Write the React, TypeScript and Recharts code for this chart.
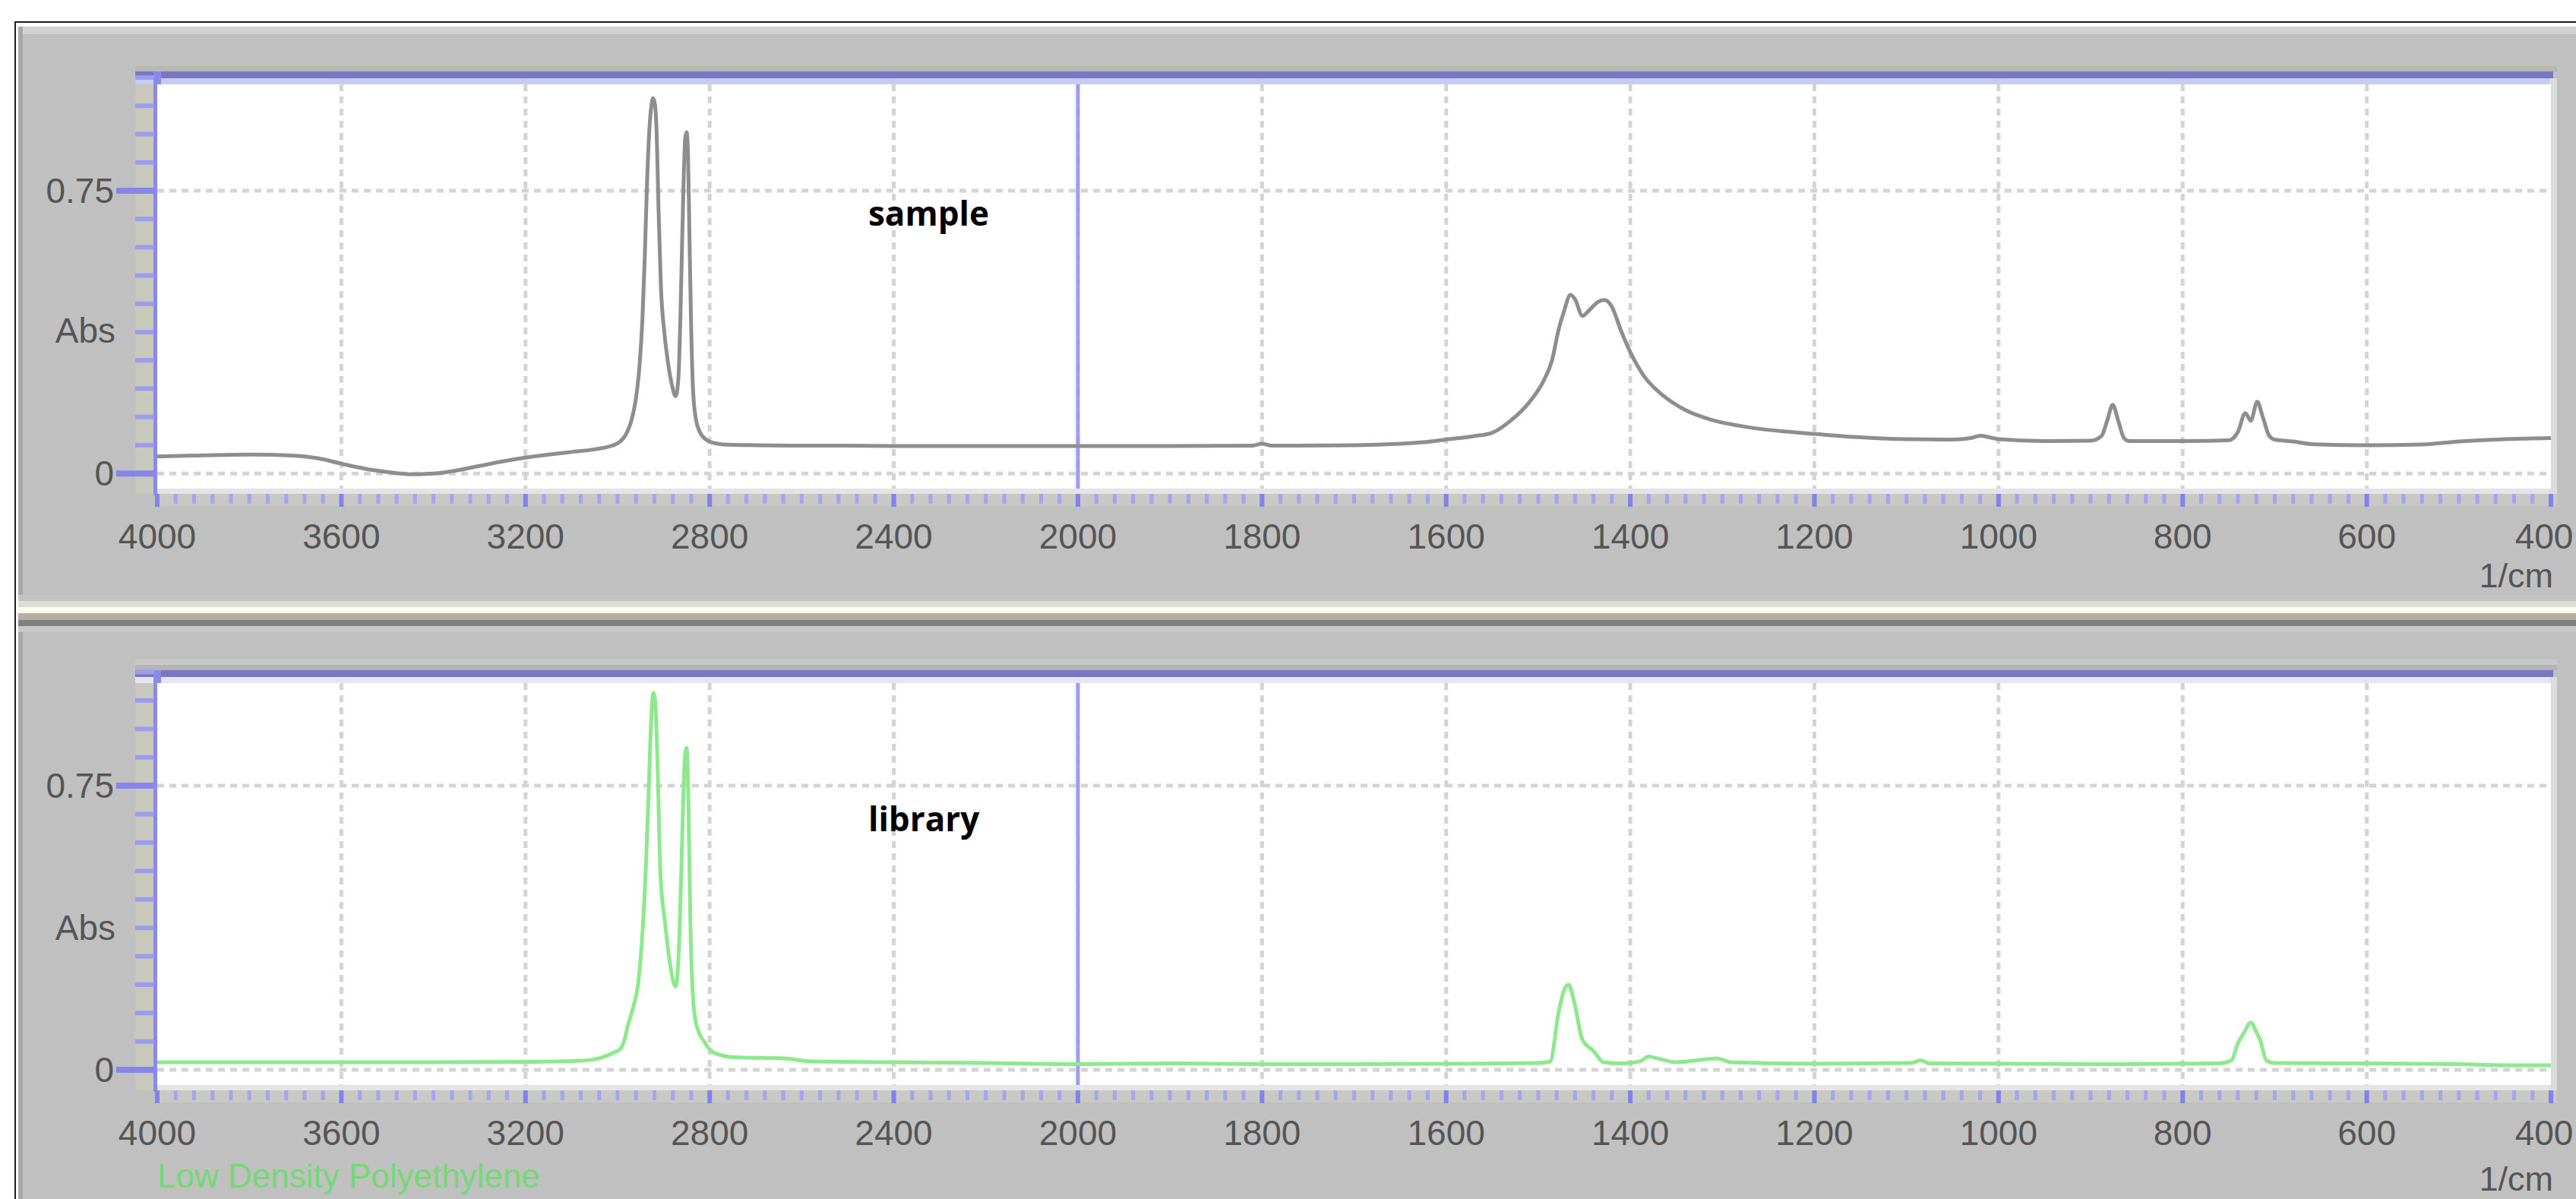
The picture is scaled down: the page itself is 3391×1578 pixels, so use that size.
import { LineChart, Line, XAxis, YAxis, CartesianGrid, ReferenceLine } from 'recharts';

// axis labels of the spectrometer display (4000-2000 at 400 per div, 2000-400 at 200 per div)
const xTickLabels = [4000, 3600, 3200, 2800, 2400, 2000, 1800, 1600, 1400, 1200, 1000, 800, 600, 400];
const yTickLabels = [0, 0.75];

// [wavenumber 1/cm, Abs]
const sampleSpectrum: [number, number][] = [
  [4000, 0.045], [3900, 0.048], [3800, 0.05], [3700, 0.047], [3650, 0.04], [3600, 0.026],
  [3550, 0.013], [3500, 0.004], [3450, -0.002], [3400, 0], [3350, 0.008], [3300, 0.02],
  [3250, 0.032], [3200, 0.042], [3150, 0.05], [3100, 0.057], [3050, 0.064], [3020, 0.071],
  [3000, 0.08], [2990, 0.09], [2980, 0.108], [2970, 0.14], [2960, 0.2], [2952, 0.29],
  [2946, 0.41], [2941, 0.57], [2936, 0.77], [2931, 0.91], [2927, 0.97], [2923, 0.995],
  [2919, 0.98], [2915, 0.9], [2911, 0.7], [2906, 0.5], [2898, 0.37], [2890, 0.29],
  [2882, 0.235], [2874, 0.205], [2868, 0.25], [2864, 0.39], [2860, 0.6], [2856, 0.8],
  [2853, 0.89], [2850, 0.905], [2847, 0.85], [2844, 0.64], [2840, 0.38], [2836, 0.22],
  [2830, 0.145], [2822, 0.112], [2810, 0.092], [2795, 0.082], [2770, 0.077], [2700, 0.075],
  [2600, 0.074], [2500, 0.074], [2400, 0.073], [2300, 0.073], [2200, 0.073], [2100, 0.073],
  [2000, 0.073], [1900, 0.073], [1810, 0.074], [1800, 0.079], [1790, 0.074], [1700, 0.075],
  [1650, 0.079], [1620, 0.084], [1600, 0.09], [1570, 0.099], [1550, 0.108], [1530, 0.14],
  [1510, 0.188], [1495, 0.242], [1485, 0.3], [1478, 0.38], [1472, 0.43], [1465, 0.474],
  [1460, 0.462], [1452, 0.418], [1445, 0.432], [1435, 0.455], [1428, 0.46], [1420, 0.442],
  [1410, 0.378], [1400, 0.322], [1385, 0.258], [1365, 0.208], [1340, 0.168], [1310, 0.141],
  [1270, 0.122], [1230, 0.111], [1200, 0.105], [1150, 0.096], [1100, 0.091], [1050, 0.09],
  [1030, 0.094], [1020, 0.1], [1010, 0.096], [1000, 0.091], [950, 0.086], [900, 0.087],
  [888, 0.1], [882, 0.14], [876, 0.182], [870, 0.14], [864, 0.095], [858, 0.086],
  [800, 0.086], [750, 0.088], [740, 0.11], [732, 0.16], [726, 0.14], [719, 0.19],
  [713, 0.15], [706, 0.1], [700, 0.09], [680, 0.085], [660, 0.078], [600, 0.075],
  [540, 0.077], [500, 0.085], [450, 0.091], [400, 0.094],
];

const librarySpectrum: [number, number][] = [
  [4000, 0.02], [3800, 0.02], [3600, 0.02], [3400, 0.02], [3200, 0.021], [3100, 0.023],
  [3050, 0.028], [3026, 0.036], [3010, 0.045], [2994, 0.055], [2985, 0.08], [2977, 0.12],
  [2965, 0.17], [2955, 0.23], [2946, 0.36], [2938, 0.55], [2932, 0.75], [2927, 0.92],
  [2922, 0.995], [2918, 0.97], [2913, 0.8], [2907, 0.52], [2897, 0.39], [2886, 0.28],
  [2874, 0.22], [2866, 0.34], [2859, 0.64], [2854, 0.82], [2850, 0.85], [2846, 0.7],
  [2842, 0.4], [2837, 0.21], [2829, 0.12], [2812, 0.075], [2790, 0.045], [2745, 0.033],
  [2636, 0.03], [2580, 0.022], [2400, 0.02], [2200, 0.018], [2000, 0.015], [1900, 0.017],
  [1800, 0.015], [1600, 0.016], [1500, 0.018], [1487, 0.022], [1478, 0.15], [1472, 0.21],
  [1467, 0.225], [1461, 0.18], [1452, 0.08], [1440, 0.05], [1429, 0.02], [1410, 0.017],
  [1390, 0.022], [1380, 0.035], [1370, 0.03], [1350, 0.02], [1306, 0.03], [1290, 0.02],
  [1200, 0.016], [1095, 0.018], [1085, 0.025], [1075, 0.017], [900, 0.015], [760, 0.017],
  [747, 0.025], [740, 0.07], [733, 0.1], [726, 0.125], [720, 0.1], [716, 0.08],
  [709, 0.025], [700, 0.018], [600, 0.017], [500, 0.015], [450, 0.012], [400, 0.012],
];

const toAxis = (wn: number) => (wn >= 2000 ? (4000 - wn) / 400 : 5 + (2000 - wn) / 200);

const toRows = (s: [number, number][]) => s.map(([wn, abs]) => ({ u: toAxis(wn), abs }));

const majorX = xTickLabels.map(toAxis);
const xTicks = Array.from({ length: 131 }, (_, i) => i / 10);
const yTicks = Array.from({ length: 15 }, (_, i) => Math.round(i * 75) / 1000);

const FONT = '"Liberation Sans", Arial, sans-serif';
const PAGE_W = 3391;

const renderXTick = (props: any) => {
  const { x, y, payload } = props;
  const u = payload.value as number;
  const idx = majorX.findIndex((m) => Math.abs(m - u) < 1e-6);
  const major = idx >= 0;
  // keep the last label inside the page
  const tx = Math.min(x, PAGE_W - 42);
  return (
    <g>
      <line x1={x} x2={x} y1={y + 7} y2={y + (major ? 24 : 20)} stroke={major ? '#8282ec' : '#a4a4f0'} strokeWidth={major ? 6 : 5} />
      {major && (
        <text x={tx} y={y + 79} textAnchor="middle" fontFamily={FONT} fontSize={46} fill="#555555">
          {xTickLabels[idx]}
        </text>
      )}
    </g>
  );
};

const renderYTick = (props: any) => {
  const { x, y, payload } = props;
  const v = payload.value as number;
  const major = yTickLabels.some((t) => Math.abs(t - v) < 1e-6);
  return (
    <g>
      <line x1={major ? x - 54 : x - 29} x2={x - 4} y1={y} y2={y} stroke={major ? '#8686ea' : '#9c9cee'} strokeWidth={major ? 8 : 6} />
      {major && (
        <text x={x - 57} y={y + 16} textAnchor="end" fontFamily={FONT} fontSize={46} fill="#555555">
          {v}
        </text>
      )}
    </g>
  );
};

const renderAbs = (props: any) => {
  const vb = props.viewBox || { x: 0, y: 0, width: 207, height: 500 };
  return (
    <text x={vb.x + vb.width - 55} y={vb.y + vb.height * 0.607 + 17} textAnchor="end" fontFamily={FONT} fontSize={46} fill="#555555">
      Abs
    </text>
  );
};

const box = (left: number, top: number, width: number, height: number, background: string) => (
  <div style={{ position: 'absolute', left, top, width, height, background }} />
);

function Frame({ plotTop, plotBottom, lightBlue, bandA, bandB }: { plotTop: number; plotBottom: number; lightBlue: string; bandA: string; bandB: string }) {
  return (
    <>
      {box(178, plotTop - 31, 3188, 7, bandA)}
      {box(178, plotTop - 24, 3188, 7, bandB)}
      {box(178, plotTop - 17, 3183, 9, '#7878c2')}
      {box(178, plotTop - 8, 3180, 8, lightBlue)}
      {box(178, plotTop, 24, plotBottom - plotTop + 7, '#c8c8bc')}
      {box(202, plotTop - 17, 10, plotBottom - plotTop + 26, '#8a8ae8')}
      {box(207, plotBottom, 3151, 7, '#e4e4e4')}
      {box(207, plotBottom + 7, 3159, 16, '#c8c8c4')}
      {box(3356, plotTop - 8, 10, plotBottom - plotTop + 15, '#dcdcdc')}
    </>
  );
}

function Spectrum({ rows, stroke, top, plotTop, plotBottom, yMax }: { rows: { u: number; abs: number }[]; stroke: string; top: number; plotTop: number; plotBottom: number; yMax: number }) {
  const xAxisH = 100;
  return (
    <div style={{ position: 'absolute', left: 0, top }}>
      <LineChart width={PAGE_W} height={plotBottom - top + xAxisH} data={rows} margin={{ top: plotTop - top, right: 33, bottom: 0, left: 0 }}>
        <CartesianGrid
          fill="#ffffff"
          stroke="#d4d4d4"
          strokeWidth={5}
          strokeDasharray="9 7"
          verticalValues={majorX.slice(1, -1)}
          horizontalValues={yTickLabels}
        />
        <XAxis
          type="number"
          dataKey="u"
          domain={[0, 13]}
          ticks={xTicks}
          interval={0}
          tick={renderXTick}
          tickLine={false}
          axisLine={false}
          tickSize={0}
          tickMargin={0}
          height={xAxisH}
          allowDataOverflow
        />
        <YAxis
          type="number"
          domain={[-0.04, yMax]}
          ticks={yTicks}
          interval={0}
          tick={renderYTick}
          tickLine={false}
          axisLine={false}
          tickSize={0}
          tickMargin={0}
          width={207}
          allowDataOverflow
          label={{ content: renderAbs }}
        />
        <ReferenceLine x={toAxis(2000)} stroke="#9c9cf2" strokeWidth={5} />
        <Line type="monotone" dataKey="abs" stroke={stroke} strokeWidth={5} dot={false} isAnimationActive={false} />
      </LineChart>
    </div>
  );
}

export default function App() {
  return (
    <div style={{ position: 'absolute', left: 0, top: 0, width: PAGE_W, height: 1578, background: '#ffffff', overflow: 'hidden' }}>
      <div style={{ position: 'absolute', left: 19, top: 28, width: 3400, height: 1600, border: '2px solid #1c1c1c' }} />
      {box(24, 35, 3367, 1543, '#c0c0c0')}
      {box(24, 35, 3367, 10, '#d2d2d2')}
      {box(24, 35, 6, 1543, '#a8a8a8')}

      {/* separator between the two panes */}
      {box(24, 783, 3367, 8, '#c4c4c4')}
      {box(24, 791, 3367, 8, '#dcdcd4')}
      {box(24, 799, 3367, 8, '#fcfaec')}
      {box(24, 807, 3367, 9, '#b4b0a0')}
      {box(24, 816, 3367, 8, '#808080')}
      {box(24, 824, 3367, 8, '#c8c8c8')}

      <Frame plotTop={111} plotBottom={643} lightBlue="#cacaf8" bandA="#c0c0c0" bandB="#b8b8b2" />
      <Frame plotTop={899} plotBottom={1428} lightBlue="#e4e4fc" bandA="#c8c8c8" bandB="#b4b4b4" />

      <Spectrum rows={toRows(sampleSpectrum)} stroke="#8e8e8e" top={0} plotTop={111} plotBottom={643} yMax={1.032} />
      <Spectrum rows={toRows(librarySpectrum)} stroke="#8ee88e" top={800} plotTop={899} plotBottom={1428} yMax={1.021} />

      <svg width={PAGE_W} height={1578} style={{ position: 'absolute', left: 0, top: 0, pointerEvents: 'none' }}>
        <text x={1143} y={297} fontFamily='"Open Sans", sans-serif' fontWeight={700} fontSize={44} fill="#000000">sample</text>
        <text x={1143} y={1094} fontFamily='"Open Sans", sans-serif' fontWeight={700} fontSize={44} fill="#000000">library</text>
        <text x={3361} y={773} textAnchor="end" fontFamily={FONT} fontSize={45} fill="#555555">1/cm</text>
        <text x={3361} y={1567} textAnchor="end" fontFamily={FONT} fontSize={45} fill="#555555">1/cm</text>
        <text x={207} y={1563} fontFamily={FONT} fontSize={44} fill="#72da72">Low Density Polyethylene</text>
      </svg>
    </div>
  );
}
